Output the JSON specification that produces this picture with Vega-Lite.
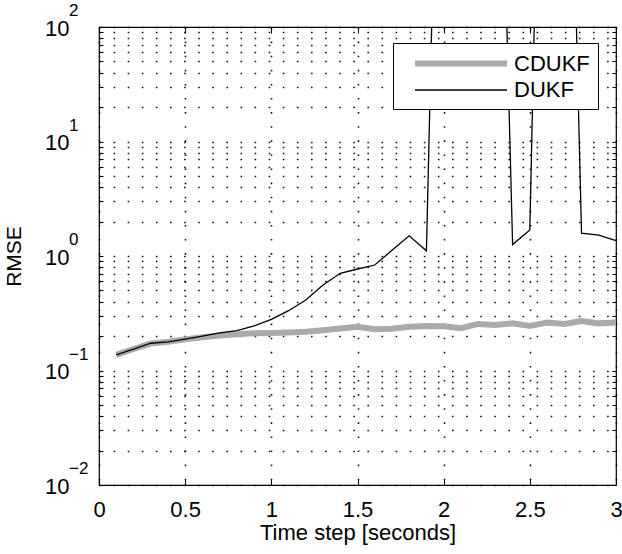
{
  "$schema": "https://vega.github.io/schema/vega-lite/v6.json",
  "width": 517,
  "height": 458,
  "autosize": {"type": "none"},
  "padding": {"left": 99, "top": 27, "right": 6, "bottom": 69},
  "background": "white",
  "config": {
    "font": "Liberation Sans",
    "view": {"stroke": "black", "strokeWidth": 1.2},
    "axis": {
      "domain": false,
      "labelColor": "black",
      "titleColor": "black",
      "titleFontWeight": "normal",
      "tickColor": "black",
      "labelFont": "Liberation Sans",
      "titleFont": "Liberation Sans"
    },
    "legend": {
      "orient": "none",
      "legendX": 294,
      "legendY": 16,
      "title": null,
      "symbolType": "M0.163,0H10.163",
      "symbolSize": 338.56,
      "labelFontSize": 22,
      "labelColor": "black",
      "labelOffset": 88,
      "padding": 8,
      "rowPadding": 3,
      "strokeColor": "black",
      "fillColor": "white"
    }
  },
  "datasets": {
    "curves": [
      {"t": 0.1, "series": "CDUKF", "v": 0.137},
      {"t": 0.2, "series": "CDUKF", "v": 0.154},
      {"t": 0.3, "series": "CDUKF", "v": 0.172},
      {"t": 0.4, "series": "CDUKF", "v": 0.178},
      {"t": 0.5, "series": "CDUKF", "v": 0.187},
      {"t": 0.6, "series": "CDUKF", "v": 0.195},
      {"t": 0.7, "series": "CDUKF", "v": 0.202},
      {"t": 0.8, "series": "CDUKF", "v": 0.207},
      {"t": 0.9, "series": "CDUKF", "v": 0.211},
      {"t": 1.0, "series": "CDUKF", "v": 0.213},
      {"t": 1.1, "series": "CDUKF", "v": 0.215},
      {"t": 1.2, "series": "CDUKF", "v": 0.218},
      {"t": 1.3, "series": "CDUKF", "v": 0.225},
      {"t": 1.4, "series": "CDUKF", "v": 0.233},
      {"t": 1.5, "series": "CDUKF", "v": 0.241},
      {"t": 1.6, "series": "CDUKF", "v": 0.229},
      {"t": 1.7, "series": "CDUKF", "v": 0.232},
      {"t": 1.8, "series": "CDUKF", "v": 0.241},
      {"t": 1.9, "series": "CDUKF", "v": 0.245},
      {"t": 2.0, "series": "CDUKF", "v": 0.243},
      {"t": 2.1, "series": "CDUKF", "v": 0.234},
      {"t": 2.2, "series": "CDUKF", "v": 0.255},
      {"t": 2.3, "series": "CDUKF", "v": 0.25},
      {"t": 2.4, "series": "CDUKF", "v": 0.258},
      {"t": 2.5, "series": "CDUKF", "v": 0.245},
      {"t": 2.6, "series": "CDUKF", "v": 0.262},
      {"t": 2.7, "series": "CDUKF", "v": 0.255},
      {"t": 2.8, "series": "CDUKF", "v": 0.271},
      {"t": 2.9, "series": "CDUKF", "v": 0.258},
      {"t": 3.0, "series": "CDUKF", "v": 0.262},
      {"t": 0.1, "series": "DUKF", "v": 0.137},
      {"t": 0.2, "series": "DUKF", "v": 0.154},
      {"t": 0.3, "series": "DUKF", "v": 0.173},
      {"t": 0.4, "series": "DUKF", "v": 0.178},
      {"t": 0.5, "series": "DUKF", "v": 0.188},
      {"t": 0.6, "series": "DUKF", "v": 0.2},
      {"t": 0.7, "series": "DUKF", "v": 0.213},
      {"t": 0.8, "series": "DUKF", "v": 0.223},
      {"t": 0.9, "series": "DUKF", "v": 0.245},
      {"t": 1.0, "series": "DUKF", "v": 0.28},
      {"t": 1.1, "series": "DUKF", "v": 0.333},
      {"t": 1.2, "series": "DUKF", "v": 0.413},
      {"t": 1.3, "series": "DUKF", "v": 0.558},
      {"t": 1.4, "series": "DUKF", "v": 0.706},
      {"t": 1.5, "series": "DUKF", "v": 0.77},
      {"t": 1.6, "series": "DUKF", "v": 0.834},
      {"t": 1.7, "series": "DUKF", "v": 1.12},
      {"t": 1.8, "series": "DUKF", "v": 1.5},
      {"t": 1.9, "series": "DUKF", "v": 1.11},
      {"t": 2.0, "series": "DUKF", "v": 3000000},
      {"t": 2.1, "series": "DUKF", "v": 5000000},
      {"t": 2.2, "series": "DUKF", "v": 2000000},
      {"t": 2.3, "series": "DUKF", "v": 700000},
      {"t": 2.4, "series": "DUKF", "v": 1.26},
      {"t": 2.5, "series": "DUKF", "v": 1.69},
      {"t": 2.6, "series": "DUKF", "v": 16000000},
      {"t": 2.7, "series": "DUKF", "v": 2000000},
      {"t": 2.8, "series": "DUKF", "v": 1.58},
      {"t": 2.9, "series": "DUKF", "v": 1.52},
      {"t": 3.0, "series": "DUKF", "v": 1.36}
    ],
    "decades": [
      {"t": 0, "v": 0.01, "exp": "−2"},
      {"t": 0, "v": 0.1, "exp": "−1"},
      {"t": 0, "v": 1, "exp": "0"},
      {"t": 0, "v": 10, "exp": "1"},
      {"t": 0, "v": 100, "exp": "2"}
    ]
  },
  "layer": [
    {
      "data": {"name": "curves"},
      "mark": {"type": "line", "clip": true, "strokeJoin": "miter"},
      "encoding": {
        "x": {
          "field": "t",
          "type": "quantitative",
          "scale": {"domain": [0, 3], "nice": false, "zero": false},
          "axis": {
            "orient": "bottom",
            "values": [0, 0.5, 1, 1.5, 2, 2.5, 3],
            "format": "~g",
            "title": "Time step [seconds]",
            "titleFontSize": 22,
            "titlePadding": 2,
            "labelFontSize": 22,
            "labelPadding": 20,
            "labelBaseline": "top",
            "labelFlush": false,
            "tickSize": -6,
            "tickWidth": 1,
            "grid": true,
            "gridColor": "#111111",
            "gridDash": [1.6, 12.5],
            "gridWidth": 1.6
          }
        },
        "y": {
          "field": "v",
          "type": "quantitative",
          "scale": {"type": "log", "domain": [0.01, 100], "nice": false},
          "axis": {
            "orient": "left",
            "values": [0.01, 0.02, 0.03, 0.04, 0.05, 0.06, 0.07, 0.08, 0.09, 0.1, 0.2, 0.3, 0.4, 0.5, 0.6, 0.7, 0.8, 0.9, 1, 2, 3, 4, 5, 6, 7, 8, 9, 10, 20, 30, 40, 50, 60, 70, 80, 90, 100],
            "labelExpr": "abs(log(datum.value)/LN10 - round(log(datum.value)/LN10)) < 0.001 ? '10' : ''",
            "title": "RMSE",
            "titleFontSize": 21,
            "titlePadding": 20,
            "labelFontSize": 22,
            "labelPadding": 34,
            "labelOffset": 1,
            "labelFlush": false,
            "labelOverlap": false,
            "tickSize": -4,
            "grid": true,
            "gridColor": "#111111",
            "gridDash": [1.6, 12.5],
            "gridWidth": 1.6
          }
        },
        "color": {
          "field": "series",
          "type": "nominal",
          "scale": {"domain": ["CDUKF", "DUKF"], "range": ["#aaaaaa", "#000000"]}
        },
        "strokeWidth": {
          "field": "series",
          "type": "nominal",
          "scale": {"domain": ["CDUKF", "DUKF"], "range": [6, 1.3]}
        }
      }
    },
    {
      "data": {"name": "decades"},
      "mark": {"type": "text", "align": "left", "baseline": "middle", "dx": -30, "dy": -16, "fontSize": 17, "font": "Liberation Sans", "color": "black"},
      "encoding": {
        "x": {"field": "t", "type": "quantitative", "axis": null},
        "y": {"field": "v", "type": "quantitative", "axis": null},
        "text": {"field": "exp"}
      }
    },
    {
      "data": {"name": "decades"},
      "mark": {"type": "point", "opacity": 0},
      "encoding": {
        "x": {
          "field": "t",
          "type": "quantitative",
          "axis": {"orient": "top", "values": [0, 0.5, 1, 1.5, 2, 2.5, 3], "labels": false, "title": null, "grid": false, "tickSize": -6}
        },
        "y": {
          "field": "v",
          "type": "quantitative",
          "axis": {"orient": "right", "values": [0.01, 0.02, 0.03, 0.04, 0.05, 0.06, 0.07, 0.08, 0.09, 0.1, 0.2, 0.3, 0.4, 0.5, 0.6, 0.7, 0.8, 0.9, 1, 2, 3, 4, 5, 6, 7, 8, 9, 10, 20, 30, 40, 50, 60, 70, 80, 90, 100], "labels": false, "title": null, "grid": false, "tickSize": -4}
        }
      }
    }
  ],
  "resolve": {"axis": {"x": "independent", "y": "independent"}}
}
